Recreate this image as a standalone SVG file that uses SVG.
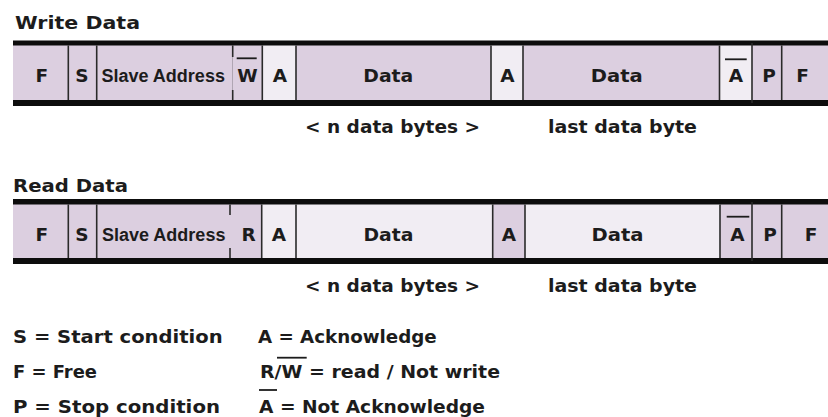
<svg xmlns="http://www.w3.org/2000/svg" width="828" height="417" viewBox="0 0 828 417">
<style>
text{font-family:"DejaVu Sans","Liberation Sans",sans-serif;font-weight:bold;fill:#1c1c1c}
.t{font-size:18.5px}
.c{font-size:18.5px;text-anchor:middle}
.s{font-size:17.5px}
.sa{font-family:"Liberation Sans",Arial,sans-serif;font-size:18px}
.lav{fill:#dccfe0}
.lt{fill:#f1edf3}
.bar{fill:#0d0d0d}
.div{stroke:#2a2a2a;stroke-width:1.6}
.ob{stroke:#1c1c1c;stroke-width:1.8}
</style>
<rect width="828" height="417" fill="#ffffff"/>

<text id="title-write" class="t" x="15" y="28.5" textLength="125" lengthAdjust="spacingAndGlyphs">Write Data</text>

<g id="write-frame">
<rect class="bar" x="13" y="40.5" width="815" height="65.5"/>
</g>
<g id="w-F1"><rect class="lav" x="13" y="45.5" width="55.3" height="54.5"/><text class="c" x="41.7" y="81.7">F</text></g>
<g id="w-S"><rect class="lav" x="68.3" y="45.5" width="28.4" height="54.5"/><text class="c" x="82" y="81.7">S</text></g>
<g id="w-addr"><rect class="lav" x="96.7" y="45.5" width="136" height="54.5"/><text x="101.5" y="81.7" class="sa">Slave Address</text></g>
<g id="w-W"><rect class="lav" x="232.7" y="45.5" width="29.6" height="54.5"/><text class="c" x="247.5" y="81.7">W</text><line class="ob" x1="236.7" y1="58.3" x2="256.7" y2="58.3"/></g>
<g id="w-A1"><rect class="lt" x="262.3" y="45.5" width="33.7" height="54.5"/><text class="c" x="280" y="81.7">A</text></g>
<g id="w-D1"><rect class="lav" x="296" y="45.5" width="195" height="54.5"/><text class="c" x="388.3" y="81.7" textLength="50" lengthAdjust="spacingAndGlyphs">Data</text></g>
<g id="w-A2"><rect class="lt" x="491" y="45.5" width="32" height="54.5"/><text class="c" x="507.5" y="81.7">A</text></g>
<g id="w-D2"><rect class="lav" x="523" y="45.5" width="196.5" height="54.5"/><text class="c" x="616.7" y="81.7" textLength="52" lengthAdjust="spacingAndGlyphs">Data</text></g>
<g id="w-NA"><rect class="lt" x="719.5" y="45.5" width="32.5" height="54.5"/><text class="c" x="736" y="81.7">A</text><line class="ob" x1="725" y1="59.3" x2="746.7" y2="59.3"/></g>
<g id="w-P"><rect class="lav" x="752" y="45.5" width="29.7" height="54.5"/><text class="c" x="769" y="81.7">P</text></g>
<g id="w-F2"><rect class="lav" x="781.7" y="45.5" width="46.3" height="54.5"/><text class="c" x="802.5" y="81.7">F</text></g>

<g id="write-dividers">
<line class="div" x1="68.3" y1="45.5" x2="68.3" y2="100"/>
<line class="div" x1="96.7" y1="45.5" x2="96.7" y2="100"/>
<line class="div" x1="232.7" y1="45.5" x2="232.7" y2="57"/>
<line class="div" x1="232.7" y1="90" x2="232.7" y2="100"/>
<line class="div" x1="262.3" y1="45.5" x2="262.3" y2="100"/>
<line class="div" x1="296" y1="45.5" x2="296" y2="100"/>
<line class="div" x1="491" y1="45.5" x2="491" y2="100"/>
<line class="div" x1="523" y1="45.5" x2="523" y2="100"/>
<line class="div" x1="719.5" y1="45.5" x2="719.5" y2="100"/>
<line class="div" x1="752" y1="43" x2="752" y2="103"/>
<line class="div" x1="781.7" y1="45.5" x2="781.7" y2="100"/>
</g>

<text id="w-nbytes" class="s" x="305" y="133.3" textLength="175" lengthAdjust="spacingAndGlyphs">&lt; n data bytes &gt;</text>
<text id="w-last" class="s" x="548" y="133.3" textLength="149" lengthAdjust="spacingAndGlyphs">last data byte</text>

<text id="title-read" class="t" x="13" y="192" textLength="115" lengthAdjust="spacingAndGlyphs">Read Data</text>

<g id="read-frame">
<rect class="bar" x="13" y="199" width="815" height="65"/>
</g>
<g id="r-F1"><rect class="lav" x="13" y="204.5" width="55.3" height="53.5"/><text class="c" x="41.7" y="240.5">F</text></g>
<g id="r-S"><rect class="lav" x="68.3" y="204.5" width="28.4" height="53.5"/><text class="c" x="82" y="240.5">S</text></g>
<g id="r-addr"><rect class="lav" x="96.7" y="204.5" width="133.3" height="53.5"/><text x="102" y="240.5" class="sa">Slave Address</text></g>
<g id="r-R"><rect class="lav" x="230" y="204.5" width="31.7" height="53.5"/><text class="c" x="248.5" y="240.5">R</text></g>
<g id="r-A1"><rect class="lt" x="261.7" y="204.5" width="34.3" height="53.5"/><text class="c" x="279" y="240.5">A</text></g>
<g id="r-D1"><rect class="lt" x="296" y="204.5" width="196.7" height="53.5"/><text class="c" x="388.5" y="240.5" textLength="50" lengthAdjust="spacingAndGlyphs">Data</text></g>
<g id="r-A2"><rect class="lav" x="492.7" y="204.5" width="32.3" height="53.5"/><text class="c" x="509" y="240.5">A</text></g>
<g id="r-D2"><rect class="lt" x="525" y="204.5" width="195" height="53.5"/><text class="c" x="617.5" y="240.5" textLength="52" lengthAdjust="spacingAndGlyphs">Data</text></g>
<g id="r-NA"><rect class="lav" x="720" y="204.5" width="32" height="53.5"/><text class="c" x="737.5" y="240.5">A</text><line class="ob" x1="726.7" y1="216.7" x2="749.3" y2="216.7"/></g>
<g id="r-P"><rect class="lav" x="752" y="204.5" width="29.7" height="53.5"/><text class="c" x="770" y="240.5">P</text></g>
<g id="r-F2"><rect class="lav" x="781.7" y="204.5" width="46.3" height="53.5"/><text class="c" x="811" y="240.5">F</text></g>

<g id="read-dividers">
<line class="div" x1="68.3" y1="204.5" x2="68.3" y2="258"/>
<line class="div" x1="96.7" y1="204.5" x2="96.7" y2="258"/>
<line class="div" x1="230" y1="204.5" x2="230" y2="215"/>
<line class="div" x1="230" y1="248" x2="230" y2="258"/>
<line class="div" x1="261.7" y1="204.5" x2="261.7" y2="258"/>
<line class="div" x1="296" y1="204.5" x2="296" y2="258"/>
<line class="div" x1="492.7" y1="204.5" x2="492.7" y2="258"/>
<line class="div" x1="525" y1="204.5" x2="525" y2="258"/>
<line class="div" x1="720" y1="204.5" x2="720" y2="258"/>
<line class="div" x1="752" y1="202" x2="752" y2="261"/>
<line class="div" x1="781.7" y1="204.5" x2="781.7" y2="258"/>
</g>

<text id="r-nbytes" class="s" x="305" y="291.5" textLength="175" lengthAdjust="spacingAndGlyphs">&lt; n data bytes &gt;</text>
<text id="r-last" class="s" x="548" y="291.5" textLength="149" lengthAdjust="spacingAndGlyphs">last data byte</text>

<g id="legend">
<text class="s" x="13" y="343" textLength="209.7" lengthAdjust="spacingAndGlyphs">S = Start condition</text>
<text class="s" x="13" y="378.3" textLength="84" lengthAdjust="spacingAndGlyphs">F = Free</text>
<text class="s" x="13" y="413.3" textLength="207" lengthAdjust="spacingAndGlyphs">P = Stop condition</text>
<text class="s" x="258" y="343" textLength="178.7" lengthAdjust="spacingAndGlyphs">A = Acknowledge</text>
<text class="s" x="260" y="378.3" textLength="240" lengthAdjust="spacingAndGlyphs">R/W = read / Not write</text>
<line class="ob" x1="277" y1="357.7" x2="306.7" y2="357.7"/>
<text class="s" x="259" y="413.3" textLength="226" lengthAdjust="spacingAndGlyphs">A = Not Acknowledge</text>
<line class="ob" x1="259" y1="390" x2="277" y2="390"/>
</g>
</svg>
